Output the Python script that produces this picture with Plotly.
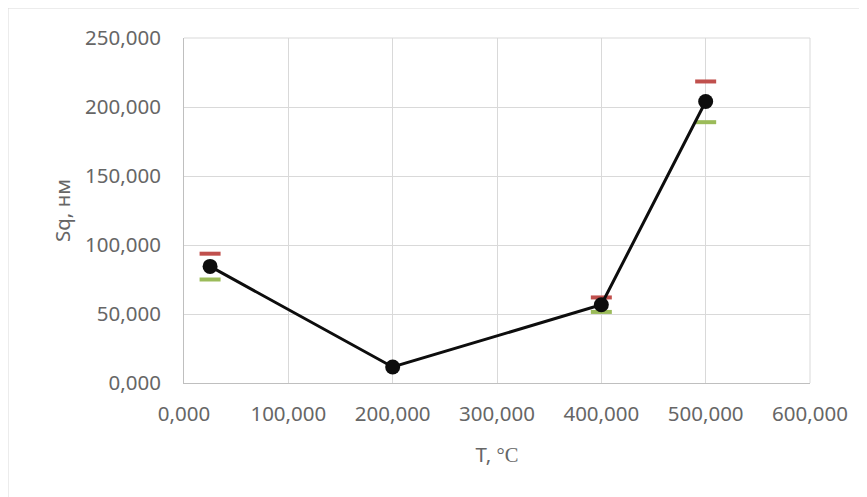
import plotly.graph_objects as go

temps = [25, 200, 400, 500]
sq_mean = [84.5, 11.6, 56.7, 204.0]
err_x = [25, 400, 500]
sq_upper = [93.7, 62.0, 218.5]
sq_lower = [75.0, 51.5, 189.0]

x_ticks = [0, 100, 200, 300, 400, 500, 600]
y_ticks = [0, 50, 100, 150, 200, 250]

fig = go.Figure()
fig.add_trace(go.Scatter(
    x=err_x, y=sq_upper, mode="markers",
    marker=dict(symbol="line-ew", size=15, line=dict(color="#C0504D", width=4)),
    showlegend=False, hoverinfo="skip"))
fig.add_trace(go.Scatter(
    x=err_x, y=sq_lower, mode="markers",
    marker=dict(symbol="line-ew", size=15, line=dict(color="#9BBB59", width=4)),
    showlegend=False, hoverinfo="skip"))
fig.add_trace(go.Scatter(
    x=temps, y=sq_mean, mode="lines+markers",
    line=dict(color="#0d0d0d", width=3),
    marker=dict(color="#0d0d0d", size=15),
    showlegend=False))

L, T = 176, 30
fig.update_layout(
    width=867, height=497,
    margin=dict(l=L, r=867 - L - 626, t=T, b=497 - T - 345),
    paper_bgcolor="white", plot_bgcolor="white",
    separators=", ",
    font=dict(family="Noto Sans", size=20.5, color="#666666"),
    xaxis=dict(
        range=[0, 600], tickvals=x_ticks, tickformat=".3f",
        showgrid=True, gridcolor="#d9d9d9", gridwidth=1,
        showline=True, linecolor="#bfbfbf", linewidth=1, mirror=False,
        zeroline=False, ticks="", ticklabelstandoff=12,
        title=dict(text='T, <span style="font-family:\'Liberation Serif\',serif">°C</span>',
                   font=dict(size=20.5, color="#666666"), standoff=22),
    ),
    yaxis=dict(
        range=[0, 250], tickvals=y_ticks, tickformat=".3f",
        showgrid=True, gridcolor="#d9d9d9", gridwidth=1,
        showline=True, linecolor="#bfbfbf", linewidth=1,
        zeroline=False, ticks="", ticklabelstandoff=18,
        title=dict(text="Sq, нм", font=dict(size=20.5, color="#666666"), standoff=8),
    ),
    shapes=[
        dict(type="rect", xref="paper", yref="paper",
             x0=(0 - L) / 626, x1=(880 - L) / 626,
             y0=(345 - 520) / 345, y1=(345 + T) / 345,
             line=dict(color="#d9d9d9", width=1), fillcolor="rgba(0,0,0,0)", layer="below"),
        dict(type="line", xref="paper", yref="paper", x0=1, x1=1, y0=0, y1=1,
             line=dict(color="#d9d9d9", width=1)),
        dict(type="line", xref="paper", yref="paper", x0=0, x1=1, y0=1, y1=1,
             line=dict(color="#d9d9d9", width=1)),
    ],
)

fig.write_html("out.html")
